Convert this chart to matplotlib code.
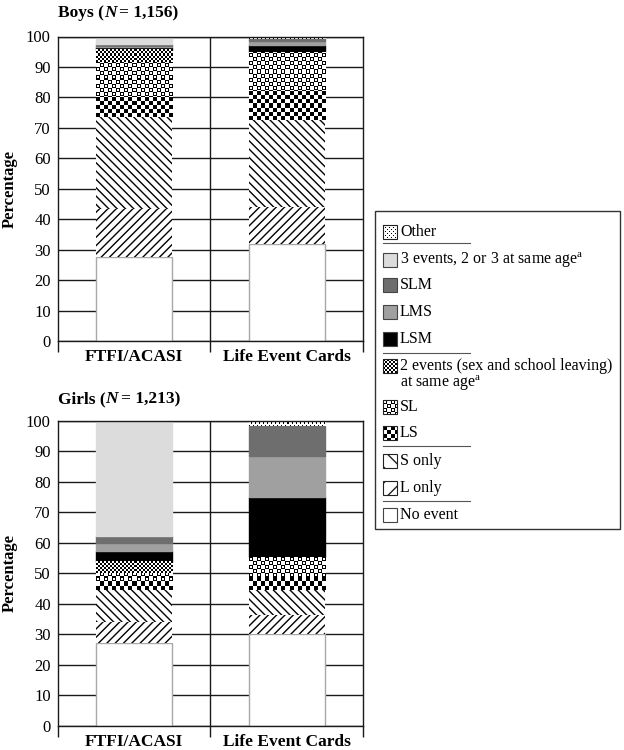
import numpy as np
import matplotlib
matplotlib.use('Agg')
import matplotlib.pyplot as plt
from matplotlib.patches import Rectangle

SERIF = 'Liberation Serif'
plt.rcParams['font.family'] = SERIF
plt.rcParams['mathtext.fontset'] = 'custom'
plt.rcParams['mathtext.rm'] = SERIF
plt.rcParams['hatch.linewidth'] = 1.0
plt.rcParams['hatch.color'] = 'black'

# ── Data: percentages, stacked bottom -> top ───────────────
categories = ["No event", "L only", "S only", "LS", "SL", "2 events",
              "LSM", "LMS", "SLM", "3 events", "Other"]
methods = ["FTFI/ACASI", "Life Event Cards"]

boys_ftfi = [27.5, 16.0, 30.0, 7.1, 11.0, 4.1, 0.8, 0.5, 0.5, 2.4, 0.1]
boys_lec = [31.7, 12.3, 28.5, 10.0, 12.3, 0.0, 2.4, 1.3, 0.7, 0.0, 0.8]
girls_ftfi = [27.2, 6.9, 10.4, 3.1, 2.4, 3.8, 3.5, 2.5, 2.4, 37.4, 0.4]
girls_lec = [30.0, 6.3, 8.3, 4.3, 6.5, 0.0, 19.5, 13.5, 9.9, 0.0, 1.7]

y_ticks = list(range(0, 101, 10))

legend_labels = {
    "Other": "Other",
    "3 events": "3 events, 2 or 3 at same age$^{\\mathrm{a}}$",
    "SLM": "SLM",
    "LMS": "LMS",
    "LSM": "LSM",
    "2 events": "2 events (sex and school leaving)\nat same age$^{\\mathrm{a}}$",
    "SL": "SL",
    "LS": "LS",
    "S only": "S only",
    "L only": "L only",
    "No event": "No event",
}

# ── Fill textures (1 = black pixel) ────────────────────────
TILE_LS = np.kron([[1, 0], [0, 1]], np.ones((4, 4)))
TILE_FINE = np.kron([[1, 0], [0, 1]], np.ones((2, 2)))
_hollow = np.ones((4, 4))
_hollow[1:3, 1:3] = 0
TILE_SL = np.zeros((8, 8))
TILE_SL[0:4, 0:4] = _hollow
TILE_SL[4:8, 4:8] = _hollow
TILE_DOTS = np.zeros((4, 4))
TILE_DOTS[0, 0] = 1
TILE_DOTS[2, 2] = 1

STYLE = {
    "No event": dict(color='white'),
    "L only": dict(hatch='////'),
    "S only": dict(hatch='\\\\\\\\'),
    "LS": dict(tile=TILE_LS),
    "SL": dict(tile=TILE_SL),
    "2 events": dict(tile=TILE_FINE),
    "LSM": dict(color='black'),
    "LMS": dict(color='#a0a0a0'),
    "SLM": dict(color='#6e6e6e'),
    "3 events": dict(color='#dcdcdc'),
    "Other": dict(tile=TILE_DOTS),
}

GRID = '#1a1a1a'

fig = plt.figure(figsize=(6.24, 7.5), dpi=100, facecolor='white')


def texture(ax, x0, y0, w, h, tile, zorder=1.5):
    """Fill a data-space rectangle with a pixel tile pattern."""
    p0 = ax.transData.transform((x0, y0))
    p1 = ax.transData.transform((x0 + w, y0 + h))
    nx = max(1, int(round(abs(p1[0] - p0[0]))))
    ny = max(1, int(round(abs(p1[1] - p0[1]))))
    reps = (ny // tile.shape[0] + 1, nx // tile.shape[1] + 1)
    arr = np.tile(tile, reps)[:ny, :nx]
    ax.imshow(arr, cmap='gray_r', vmin=0, vmax=1,
              extent=(x0, x0 + w, y0, y0 + h), origin='lower',
              interpolation='nearest', aspect='auto', zorder=zorder)


def rich_text(x_px, y_px, parts, size=12.5):
    """Write consecutive text pieces (bold / bold-italic) along a baseline."""
    r = fig.canvas.get_renderer()
    x = x_px / 624
    for txt, style, gap in parts:
        x += gap / 624
        t = fig.text(x, 1 - y_px / 750, txt, fontsize=size, fontweight='bold',
                     fontstyle=style, va='baseline', ha='left')
        x += t.get_window_extent(renderer=r).width / fig.bbox.width


def draw_panel(ax, series):
    ax.set_xlim(0, 2)
    ax.set_ylim(0, 100)
    ax.set_axisbelow(True)
    ax.yaxis.grid(True, color=GRID, lw=1.0)
    ax.set_yticks(y_ticks)
    ax.tick_params(axis='y', length=0, pad=5, labelsize=12)
    ax.set_xticks([0, 1, 2])
    ax.set_xticklabels([])
    ax.tick_params(axis='x', which='major', length=8, width=1,
                   direction='out', color=GRID)
    ax.set_xticks([0.5, 1.5], minor=True)
    ax.set_xticklabels(methods, minor=True, fontweight='bold', fontsize=12.5)
    ax.tick_params(axis='x', which='minor', length=0, pad=6)
    ax.axvline(1, color=GRID, lw=1.0, zorder=0.6)
    for sp in ax.spines.values():
        sp.set_color(GRID)
        sp.set_linewidth(1.0)
    ax.set_ylabel('Percentage', fontweight='bold', fontsize=12)
    ax.yaxis.set_label_coords(-0.132, 0.5)

    for i, vals in enumerate(series):
        bottom = 0.0
        for cat, v in zip(categories, vals):
            if v <= 0:
                continue
            st = STYLE[cat]
            xc = i + 0.5
            if 'hatch' in st:
                ax.bar(xc, v, 0.5, bottom=bottom, color='white',
                       edgecolor='black', linewidth=0, hatch=st['hatch'],
                       zorder=1)
            elif 'tile' in st:
                ax.bar(xc, v, 0.5, bottom=bottom, color='white',
                       linewidth=0, zorder=1)
                texture(ax, xc - 0.25, bottom, 0.5, v, st['tile'])
            else:
                ec = '#a8a8a8' if cat == "No event" else st['color']
                ax.bar(xc, v, 0.5, bottom=bottom, color=st['color'],
                       edgecolor=ec, linewidth=1.0, zorder=1)
            bottom += v


ax_boys = fig.add_axes([57.7 / 624, 1 - 341 / 750, 305.3 / 624, 304.5 / 750])
ax_girls = fig.add_axes([57.7 / 624, 1 - 725.7 / 750, 305.3 / 624, 305 / 750])
draw_panel(ax_boys, [boys_ftfi, boys_lec])
draw_panel(ax_girls, [girls_ftfi, girls_lec])

rich_text(58, 17, [("Boys (", 'normal', 0), ("N", 'italic', 0),
                   ("= 1,156)", 'normal', 3)])
rich_text(58, 403, [("Girls (", 'normal', 0), ("N", 'italic', 0),
                    ("= 1,213)", 'normal', 3)])

# ── Legend (drawn in pixel space) ──────────────────────────
lax = fig.add_axes([0, 0, 1, 1])
lax.set_xlim(0, 624)
lax.set_ylim(750, 0)
lax.axis('off')
lax.add_patch(Rectangle((375, 211), 245, 318, fill=False, ec='#333333', lw=1.0))

leg_order = categories[::-1]
leg_y = [232, 260, 285, 312, 339, 366, 407, 433, 461, 488, 515]
sep_y = [243, 353, 446, 501]
for sy in sep_y:
    lax.plot([383, 470], [sy, sy], color='#555555', lw=0.8)

for cat, y in zip(leg_order, leg_y):
    st = STYLE[cat]
    x0, s = 383, 14
    if 'tile' in st:
        texture(lax, x0, y - s / 2, s, s, st['tile'], zorder=2)
        lax.add_patch(Rectangle((x0, y - s / 2), s, s, fill=False,
                                ec='#222222', lw=0.8, zorder=3))
    elif 'hatch' in st:
        lax.add_patch(Rectangle((x0, y - s / 2), s, s, fc='white',
                                ec='#222222', lw=0.8, hatch=st['hatch'][:2],
                                zorder=3))
    else:
        lax.add_patch(Rectangle((x0, y - s / 2), s, s, fc=st['color'],
                                ec='#444444', lw=0.8, zorder=3))
    for k, line in enumerate(legend_labels[cat].split('\n')):
        lax.text(400, y + 17 * k, line, fontsize=11.5, va='center', ha='left')

fig.savefig('out.png', dpi=100, facecolor='white')
